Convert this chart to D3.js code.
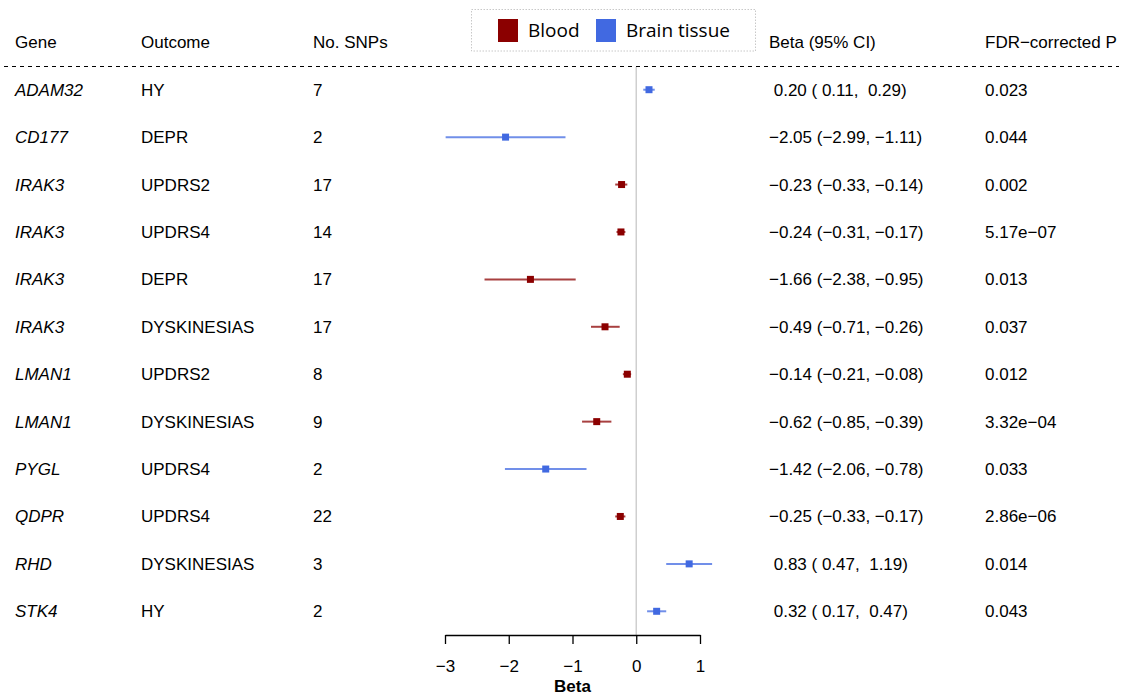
<!DOCTYPE html>
<html>
<head>
<meta charset="utf-8">
<script src="https://cdnjs.cloudflare.com/ajax/libs/d3/7.8.5/d3.min.js"></script>
<style>
  body { margin: 0; background: #fff; }
  svg text { font-family: "Liberation Sans", Arial, Helvetica, sans-serif; font-size: 17px; fill: #000; }
  .legend text { font-family: "Open Sans", "Noto Sans", sans-serif; font-size: 19px; }
</style>
</head>
<body>
<div id="chart"></div>
<script>
  // table data
  var genes    = ["ADAM32", "CD177", "IRAK3", "IRAK3", "IRAK3", "IRAK3", "LMAN1", "LMAN1", "PYGL", "QDPR", "RHD", "STK4"];
  var outcomes = ["HY", "DEPR", "UPDRS2", "UPDRS4", "DEPR", "DYSKINESIAS", "UPDRS2", "DYSKINESIAS", "UPDRS4", "UPDRS4", "DYSKINESIAS", "HY"];
  var nSnps    = [7, 2, 17, 14, 17, 17, 8, 9, 2, 22, 3, 2];
  var beta     = [0.20, -2.05, -0.23, -0.24, -1.66, -0.49, -0.14, -0.62, -1.42, -0.25, 0.83, 0.32];
  var ciLow    = [0.11, -2.99, -0.33, -0.31, -2.38, -0.71, -0.21, -0.85, -2.06, -0.33, 0.47, 0.17];
  var ciHigh   = [0.29, -1.11, -0.14, -0.17, -0.95, -0.26, -0.08, -0.39, -0.78, -0.17, 1.19, 0.47];
  var tissue   = ["Brain tissue", "Brain tissue", "Blood", "Blood", "Blood", "Blood", "Blood", "Blood", "Brain tissue", "Blood", "Brain tissue", "Brain tissue"];
  var pvals    = ["0.023", "0.044", "0.002", "5.17e\u221207", "0.013", "0.037", "0.012", "3.32e\u221204", "0.033", "2.86e\u221206", "0.014", "0.043"];
  var headers  = ["Gene", "Outcome", "No. SNPs", "Beta (95% CI)", "FDR\u2212corrected P"];
  var xTicks   = [-3, -2, -1, 0, 1];

  var width = 1123, height = 695;

  var color = d3.scaleOrdinal()
      .domain(["Blood", "Brain tissue"])
      .range(["#8b0000", "#4169e1"]);

  var x = d3.scaleLinear().domain([-3, 1]).range([445, 700]);

  var y = d3.scaleBand()
      .domain(d3.range(genes.length))
      .range([66, 635])
      .paddingOuter(0);

  // column x positions
  var colX = [15, 141, 313, 769, 985];

  var rows = genes.map(function(g, i) {
    return {gene: g, outcome: outcomes[i], n: nSnps[i], b: beta[i], lo: ciLow[i], hi: ciHigh[i], t: tissue[i], p: pvals[i]};
  });

  function fmt(v) {
    return (v < 0 ? "\u2212" : " ") + Math.abs(v).toFixed(2);
  }

  var svg = d3.select("#chart").append("svg")
      .attr("width", width)
      .attr("height", height);

  // header
  svg.append("g").selectAll("text")
    .data(headers)
    .enter().append("text")
      .attr("x", function(d, i) { return colX[i]; })
      .attr("y", 48)
      .text(function(d) { return d; });

  svg.append("line")
      .attr("x1", 4).attr("x2", 1119)
      .attr("y1", 66.5).attr("y2", 66.5)
      .attr("stroke", "#000")
      .attr("stroke-width", 1)
      .attr("stroke-dasharray", "4,4");

  // zero reference line
  svg.append("line")
      .attr("x1", x(0)).attr("x2", x(0))
      .attr("y1", 67).attr("y2", 635)
      .attr("stroke", "#cfcfcf")
      .attr("stroke-width", 1.5);

  var row = svg.append("g").selectAll("g")
    .data(rows)
    .enter().append("g")
      .attr("transform", function(d, i) { return "translate(0," + (y(i) + y.bandwidth() / 2) + ")"; });

  row.append("text")
      .attr("x", colX[0]).attr("y", 6)
      .style("font-style", "italic")
      .text(function(d) { return d.gene; });

  row.append("text")
      .attr("x", colX[1]).attr("y", 6)
      .text(function(d) { return d.outcome; });

  row.append("text")
      .attr("x", colX[2]).attr("y", 6)
      .text(function(d) { return d.n; });

  row.append("text")
      .attr("x", colX[3]).attr("y", 6)
      .style("white-space", "pre")
      .attr("xml:space", "preserve")
      .text(function(d) { return fmt(d.b) + " (" + fmt(d.lo) + ", " + fmt(d.hi) + ")"; });

  row.append("text")
      .attr("x", colX[4]).attr("y", 6)
      .text(function(d) { return d.p; });

  row.append("line")
      .attr("x1", function(d) { return x(d.lo); })
      .attr("x2", function(d) { return x(d.hi); })
      .attr("stroke", function(d) { return color(d.t); })
      .attr("stroke-opacity", 0.75)
      .attr("stroke-width", 2);

  row.append("rect")
      .attr("x", function(d) { return x(d.b) - 3.5; })
      .attr("y", -3.5)
      .attr("width", 7).attr("height", 7)
      .attr("fill", function(d) { return color(d.t); });

  // x axis
  var axis = svg.append("g")
      .attr("transform", "translate(0,635)")
      .call(d3.axisBottom(x).tickValues(xTicks).tickFormat(d3.format("d"))
        .tickSize(9).tickPadding(16).tickSizeOuter(0));
  axis.select(".domain").attr("stroke", "#000").attr("stroke-width", 1.3);
  axis.selectAll(".tick line").attr("stroke", "#000").attr("stroke-width", 1.3);
  axis.selectAll(".tick text")
      .style("font-family", "'Liberation Sans', Arial, sans-serif")
      .style("font-size", "17px")
      .attr("fill", "#000");

  svg.append("text")
      .attr("x", (x(-3) + x(1)) / 2)
      .attr("y", 692)
      .attr("text-anchor", "middle")
      .style("font-weight", "bold")
      .text("Beta");

  // legend
  var legend = svg.append("g").attr("class", "legend");
  legend.append("rect")
      .attr("x", 471.5).attr("y", 9.5)
      .attr("width", 284).attr("height", 41.5)
      .attr("fill", "#fff")
      .attr("stroke", "#c8c8c8")
      .attr("stroke-dasharray", "1.5,1.5");

  var legendX = [498, 596];
  var item = legend.selectAll("g.item")
    .data(color.domain())
    .enter().append("g")
      .attr("class", "item")
      .attr("transform", function(d, i) { return "translate(" + legendX[i] + ",19)"; });

  item.append("rect")
      .attr("width", 20).attr("height", 23)
      .attr("fill", function(d) { return color(d); });

  item.append("text")
      .attr("x", 30).attr("y", 18)
      .text(function(d) { return d; });
</script>
</body>
</html>
